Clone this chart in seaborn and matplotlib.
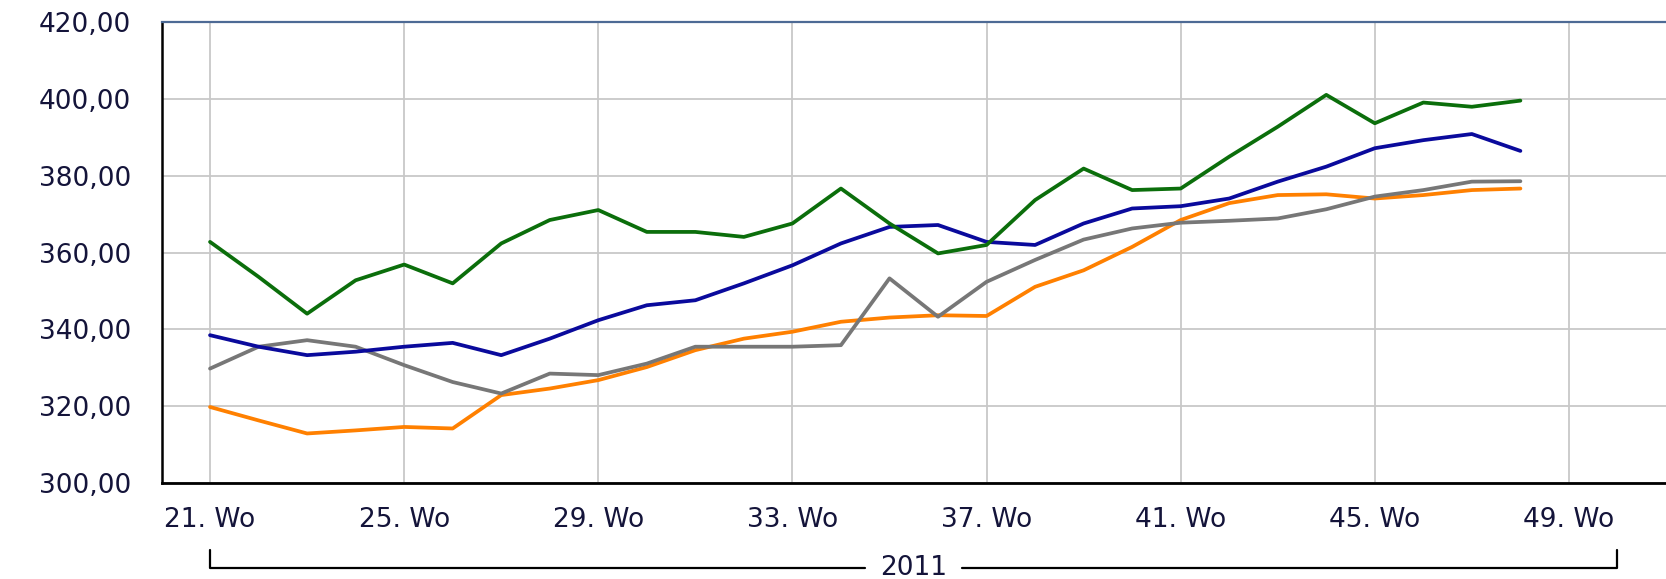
import matplotlib
matplotlib.use("Agg")
import matplotlib.pyplot as plt
import matplotlib.transforms as mtransforms
import seaborn as sns
import pandas as pd

weeks = list(range(21, 49))

green = [362.8, 353.7, 344.1, 352.8, 356.9, 352.0, 362.4, 368.5, 371.1, 365.4,
         365.4, 364.1, 367.6, 376.7, 367.6, 359.8, 362.0, 373.7, 381.9, 376.3,
         376.7, 385.0, 392.8, 401.1, 393.7, 399.1, 398.0, 399.6]
blue = [338.5, 335.5, 333.3, 334.2, 335.5, 336.5, 333.3, 337.6, 342.4, 346.3,
        347.6, 352.0, 356.7, 362.4, 366.7, 367.2, 362.8, 362.0, 367.6, 371.5,
        372.1, 374.1, 378.5, 382.4, 387.2, 389.3, 390.9, 386.5]
gray = [329.8, 335.5, 337.2, 335.5, 330.7, 326.3, 323.3, 328.5, 328.1, 331.1,
        335.5, 335.5, 335.5, 335.9, 353.3, 343.3, 352.4, 358.1, 363.4, 366.3,
        367.8, 368.3, 368.9, 371.3, 374.6, 376.3, 378.5, 378.6]
orange = [319.8, 316.3, 312.9, 313.7, 314.6, 314.2, 322.9, 324.6, 326.8, 330.2,
          334.6, 337.6, 339.4, 342.0, 343.1, 343.7, 343.5, 351.1, 355.4, 361.5,
          368.5, 372.9, 375.0, 375.2, 374.1, 375.0, 376.3, 376.7]

series_names = ["Orange", "Grau", "Blau", "Grün"]
series_values = [orange, gray, blue, green]
series_colors = ["#ff8000", "#777777", "#0a0a9c", "#0b6e0b"]

x_ticks = list(range(21, 50, 4))
x_tick_labels = [f"{w}. Wo" for w in x_ticks]
y_ticks = list(range(300, 421, 20))
y_tick_labels = [f"{v},00" for v in y_ticks]
year_label = "2011"
year_span = (21, 50)

rows = []
for name, vals in zip(series_names, series_values):
    for w, v in zip(weeks, vals):
        rows.append({"Woche": w, "Wert": v, "Serie": name})
df = pd.DataFrame(rows)

sns.set_style("white")
plt.rcParams["font.family"] = ["DejaVu Sans"]

fig = plt.figure(figsize=(16.66, 5.79), dpi=100)
ax = fig.add_axes([161.5 / 1666, 1 - 483 / 579, 1 - 161.5 / 1666, (483 - 22.3) / 579])

sns.lineplot(data=df, x="Woche", y="Wert", hue="Serie",
             palette=dict(zip(series_names, series_colors)),
             linewidth=2.7, legend=False, ax=ax, zorder=3)
for line in ax.get_lines():
    line.set_solid_joinstyle("round")
    line.set_solid_capstyle("round")

ax.set_xlim(20, 51)
ax.set_ylim(300, 420)
ax.set_xticks(x_ticks)
ax.set_xticklabels(x_tick_labels)
ax.set_yticks(y_ticks)
ax.set_yticklabels(y_tick_labels)
ax.set_xlabel("")
ax.set_ylabel("")

text_color = "#14143a"
ax.tick_params(axis="y", direction="out", length=14, width=1.5, pad=8,
               labelsize=19, colors="black", labelcolor=text_color)
ax.tick_params(axis="x", direction="out", length=6, width=1.5, pad=11,
               labelsize=19, colors="black", labelcolor=text_color)

ax.grid(True, color="#c8c8c8", linewidth=1.3, zorder=0)
ax.set_axisbelow(True)

ax.spines["right"].set_visible(False)
ax.spines["left"].set_color("black")
ax.spines["left"].set_linewidth(1.8)
ax.spines["bottom"].set_color("black")
ax.spines["bottom"].set_linewidth(2.0)
ax.spines["top"].set_color("#4d6a95")
ax.spines["top"].set_linewidth(1.6)

# year bracket below the axis
trans = mtransforms.blended_transform_factory(ax.transData, ax.transAxes)
y_line = -0.1845
y_top = -0.145
x_mid = (year_span[0] + year_span[1]) / 2
gap = 1.0
kw = dict(color="black", linewidth=1.6, transform=trans, clip_on=False)
ax.plot([year_span[0], year_span[0], x_mid - gap], [y_top, y_line, y_line], **kw)
ax.plot([x_mid + gap, year_span[1], year_span[1]], [y_line, y_line, y_top], **kw)
ax.text(x_mid, y_line, year_label, transform=trans, ha="center", va="center",
        fontsize=19, color=text_color, clip_on=False)

fig.savefig("out.png", dpi=100)
